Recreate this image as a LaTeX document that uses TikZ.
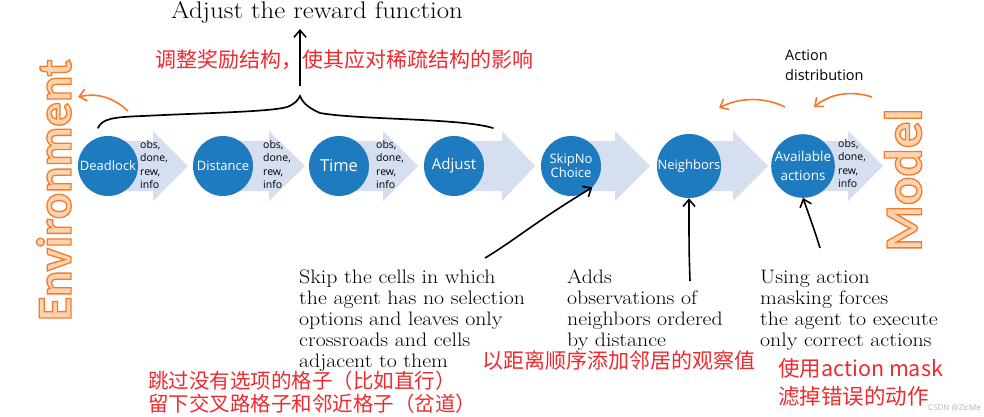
\documentclass[tikz,border=0pt]{standalone}
\usepackage{fontspec}
\setmainfont{Latin Modern Roman}
\newfontfamily\wideserif[FakeStretch=1.12]{Latin Modern Roman}
\newfontfamily\osans{Open Sans}
\newfontfamily\carlb{Carlito}
\newfontfamily\cjk{Noto Sans CJK SC}
\definecolor{circblue}{HTML}{1E7BC0}
\definecolor{chevblue}{HTML}{D5DFF0}
\definecolor{orgline}{HTML}{F47A2A}
\definecolor{orgfill}{HTML}{FDD3B0}
\definecolor{redtxt}{HTML}{EE2A2E}
\newcommand{\outlinetext}[1]{\special{pdf:literal direct 2 Tr 1.3 w 0.96 0.48 0.16 RG}#1\special{pdf:literal direct 0 Tr 0 0 0 RG}}
\newcommand{\chevron}[3]{\fill[chevblue] (#1,141) -- (#2,141) -- (#2,131) -- (#3,166) -- (#2,201) -- (#2,191) -- (#1,191) -- cycle;}
\usetikzlibrary{arrows.meta}
\tikzset{
  stage/.style={circle, fill=circblue, minimum size=60pt, inner sep=0pt, text=white, font=\osans\fontsize{13}{15}\selectfont, align=center},
  obsinfo/.style={anchor=north west, inner sep=0pt, font=\osans\fontsize{10.5}{13.5}\selectfont, align=left},
  serifnote/.style={anchor=north west, inner sep=0pt, align=left, font=\wideserif\fontsize{19.5}{21}\selectfont},
  rednote/.style={anchor=west, inner sep=0pt, text=redtxt, align=left},
  orgarrow/.style={draw=orgline, line width=1.6pt, -{Straight Barb[length=7pt,width=12pt]}},
  blkarrow/.style={draw=black, line width=1.6pt, -{Straight Barb[length=7pt,width=12pt]}},
  bigword/.style={rotate=90, inner sep=0pt, text=orgfill, font=\carlb\bfseries\fontsize{#1}{#1}\selectfont}
}
\begin{document}
\begin{tikzpicture}[x=1pt,y=-1pt]
\useasboundingbox (0,0) rectangle (984,416);
% chevrons
\chevron{108}{153}{188}
\chevron{223}{269}{305}
\chevron{339}{383}{418}
\chevron{454}{502}{535}
\chevron{571}{615}{650}
\chevron{689}{733}{768}
\chevron{803}{848}{883}
% stages
\node[stage] (dead) at (108,166) {Deadlock};
\node[stage] (dist) at (223,166) {Distance};
\node[stage, font=\osans\fontsize{16.5}{18}\selectfont] (time) at (339,166) {Time};
\node[stage, font=\osans\fontsize{15}{17}\selectfont] (adj) at (454,166) {Adjust};
\node[stage] (skip) at (571,166) {SkipNo\\[-1pt]Choice};
\node[stage] (neigh) at (689,166) {Neighbors};
\node[stage, font=\osans\fontsize{13.5}{19}\selectfont] (avail) at (803,166) {Available\\actions};
% obs texts
\node[obsinfo] (o1) at (140,140) {obs,\\done,\\rew,\\info};
\node[obsinfo] (o2) at (263,140) {obs,\\done,\\rew,\\info};
\node[obsinfo] (o3) at (376,140) {obs,\\done,\\rew,\\info};
\node[obsinfo] (o4) at (838,139) {obs,\\done,\\rew,\\info};
% big words
\node[bigword=49] (env) at (54,190) {\outlinetext{Environment}};
\node[bigword=53] (model) at (903,180) {\outlinetext{Model}};
% brace
\draw[line width=1.7pt, line cap=round] (98,128) .. controls (102,119) and (112,117) .. (143,116)
  .. controls (200,113) and (270,112) .. (287,107) .. controls (295,104) and (298,100) .. (300,96)
  .. controls (302,100) and (304,106) .. (320,113) .. controls (360,120) and (460,118) .. (493,128);
% top arrow and title
\node[inner sep=0pt, font=\wideserif\fontsize{24}{26}\selectfont] (title) at (317,12) {Adjust the reward function};
\coordinate (braceTop) at (300,86);
\draw[blkarrow] (braceTop) -- (300,29);
\node[rednote, font=\cjk\fontsize{21}{22}\selectfont] (r1) at (155,60) {调整奖励结构，使其应对稀疏结构的影响};
% orange arrows
\coordinate (envA) at (128,111);
\coordinate (envB) at (78,97);
\draw[orgarrow] (envA) .. controls (112,96) and (95,93) .. (envB);
\node[anchor=north west, inner sep=0pt, font=\osans\fontsize{14.5}{20}\selectfont, align=left] (adist) at (785,50) {Action\\distribution};
\coordinate (a1s) at (872,97);
\coordinate (a1e) at (814,107);
\draw[orgarrow] (a1s) .. controls (850,90) and (830,94) .. (a1e);
\coordinate (a2s) at (785,107);
\coordinate (a2e) at (719,108);
\draw[orgarrow] (a2s) .. controls (765,97) and (740,97) .. (a2e);
% bottom notes
\node[serifnote] (n1) at (299,270) {Skip the cells in which\\the agent has no selection\\options and leaves only\\crossroads and cells\\adjacent to them};
\node[serifnote] (n2) at (567,270) {Adds\\observations of\\neighbors ordered\\by distance};
\node[serifnote] (n3) at (760,270) {Using action\\masking forces\\the agent to execute\\only correct actions};
\coordinate (s1) at (485,258);
\draw[blkarrow] (s1) .. controls (515,240) and (535,222) .. (skip.south east);
\coordinate (s2) at (690,281);
\draw[blkarrow] (s2) .. controls (689,250) .. (neigh.south);
\coordinate (s3) at (820,248);
\draw[blkarrow] (s3) .. controls (815,232) .. (avail.south);
% red notes
\node[rednote, font=\cjk\fontsize{20.5}{23}\selectfont] (r2) at (148,392) {跳过没有选项的格子（比如直行）\\留下交叉路格子和邻近格子（岔道）};
\node[rednote, font=\cjk\fontsize{21}{22}\selectfont] (r3) at (482,360) {以距离顺序添加邻居的观察值};
\node[rednote, font=\cjk\fontsize{21.5}{28}\selectfont] (r4) at (778,382) {使用action mask\\滤掉错误的动作};
\node[anchor=west, inner sep=0pt, text=gray!60, font=\osans\fontsize{8}{9}\selectfont] (wm) at (928,408) {CSDN @ZicMe};
\end{tikzpicture}
\end{document}
